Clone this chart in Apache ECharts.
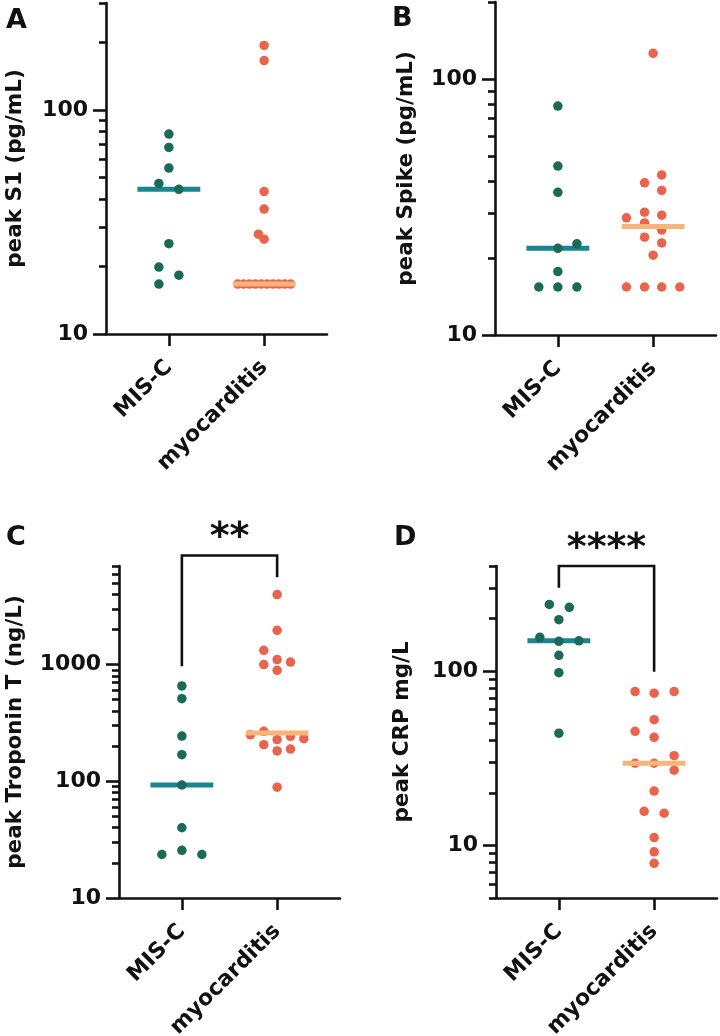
<!DOCTYPE html>
<html><head><meta charset="utf-8">
<script src="https://cdn.jsdelivr.net/npm/echarts@6/dist/echarts.min.js"></script>
<style>html,body{margin:0;padding:0;background:#fff}#c{width:720px;height:1036px}</style>
</head><body><div id="c"></div>
<script>
const categories = ['MIS-C', 'myocarditis'];

// Panel A – peak S1 (pg/mL)
const s1MisC = [78, 68, 55, 47, 44.2, 25.3, 19.9, 18.3, 16.7];
const s1MisCJitter = [0, 0, 0, -0.105, 0.105, 0, -0.105, 0.105, -0.105];
const s1Myo = [194, 166, 43.2, 36.1, 27.9, 26.5, 16.7, 16.7, 16.7, 16.7, 16.7, 16.7, 16.7, 16.7, 16.7, 16.7];
const s1MyoJitter = [0, 0, 0, 0, -0.06, 0, -0.278, -0.216, -0.154, -0.093, -0.031, 0.031, 0.093, 0.154, 0.216, 0.278];

// Panel B – peak Spike (pg/mL)
const spikeMisC = [78.4, 45.7, 36.1, 22.7, 21.8, 17.7, 15.4, 15.4, 15.4];
const spikeMisCJitter = [0, 0, 0, 0.2, 0, 0, -0.2, 0, 0.2];
const spikeMyo = [126, 42.2, 39.3, 36.7, 30.2, 29.4, 28.7, 27.4, 25.7, 24.1, 22.9, 20.5, 15.4, 15.4, 15.4, 15.4];
const spikeMyoJitter = [0, 0.09, -0.09, 0.09, -0.09, 0.09, -0.28, -0.09, 0.09, -0.09, 0.09, 0, -0.28, -0.09, 0.09, 0.28];

// Panel C – peak Troponin T (ng/L)
const tropMisC = [656, 511, 244, 169, 93, 40, 25.6, 23.6, 23.6];
const tropMisCJitter = [0, 0, 0, 0, 0, 0, 0, -0.21, 0.21];
const tropMyo = [3980, 1966, 1326, 1104, 1052, 1000, 894, 268, 250, 243, 232, 228, 206, 189, 182, 89];
const tropMyoJitter = [0, 0, -0.14, 0, 0.14, -0.14, 0, -0.14, -0.28, 0.14, 0.28, 0, -0.14, 0.14, 0, 0];

// Panel D – peak CRP mg/L
const crpMisC = [241, 232, 197, 156, 149, 148, 123, 97.8, 44];
const crpMisCJitter = [-0.1, 0.11, 0, -0.2, 0.21, 0, 0, 0, 0];
const crpMyo = [76.3, 74.7, 76.3, 52.6, 45.1, 41.7, 32.7, 29.6, 29.6, 27, 20.5, 15.7, 15.3, 11.1, 9.2, 7.9];
const crpMyoJitter = [-0.2, 0, 0.21, 0, -0.2, 0, 0.21, -0.2, 0, 0.21, 0, -0.105, 0.105, 0, 0, 0];

// significance brackets (data space) and labels
const bracketC = { from: 970, top: 8600, to: 5600, label: '**' };
const bracketD = { from: 300, top: 400, to: 99, label: '****' };

const FONT = 'DejaVu Sans';
const INK = '#111111';
const TEAL_DOT = '#1b6a58';
const TEAL_LINE = '#1a8590';
const RED_DOT = '#e8644c';
const ORANGE_LINE = '#f6b679';

const panels = [
  { letter: 'A', name: 'peak S1 (pg/mL)', min: 10, max: 300, misC: s1MisC, misCJ: s1MisCJitter, myo: s1Myo, myoJ: s1MyoJitter,
    grid: { left: 106, top: 3, width: 221, height: 331 }, nameGap: 80, title: { left: 6, top: 7 } },
  { letter: 'B', name: 'peak Spike (pg/mL)', min: 10, max: 200, misC: spikeMisC, misCJ: spikeMisCJitter, myo: spikeMyo, myoJ: spikeMyoJitter,
    grid: { left: 495, top: 2, width: 221, height: 333 }, nameGap: 78, title: { left: 392, top: 5 } },
  { letter: 'C', name: 'peak Troponin T (ng/L)', min: 10, max: 7000, misC: tropMisC, misCJ: tropMisCJitter, myo: tropMyo, myoJ: tropMyoJitter,
    grid: { left: 119, top: 566, width: 221, height: 332 }, nameGap: 93, title: { left: 6, top: 524 }, bracket: bracketC },
  { letter: 'D', name: 'peak CRP mg/L', min: 5, max: 400, misC: crpMisC, misCJ: crpMisCJitter, myo: crpMyo, myoJ: crpMyoJitter,
    grid: { left: 496, top: 566, width: 221, height: 332 }, nameGap: 83, title: { left: 394, top: 524 }, bracket: bracketD }
];

function median(arr) {
  const s = arr.slice().sort((a, b) => a - b);
  const n = s.length;
  return n % 2 ? s[(n - 1) / 2] : (s[n / 2 - 1] + s[n / 2]) / 2;
}
function logTicks(min, max) {
  const major = [], minor = [];
  for (let e = Math.floor(Math.log10(min)); e <= Math.ceil(Math.log10(max)); e++) {
    for (let m = 1; m <= 9; m++) {
      const v = Number((m * Math.pow(10, e)).toPrecision(6));
      if (v >= min - 1e-9 && v <= max + 1e-9) (m === 1 ? major : minor).push(v);
    }
  }
  return { major, minor };
}

const HALF = 0.33;
const labelFont = { fontFamily: FONT, fontWeight: 'bold', fontSize: 22, color: INK };
const grids = [], xAxes = [], yAxes = [], series = [], titles = [];

panels.forEach((p, i) => {
  grids.push(Object.assign({ containLabel: false, outerBoundsMode: 'none' }, p.grid));
  titles.push({ text: p.letter, left: p.title.left, top: p.title.top, padding: 0,
    textStyle: { fontFamily: FONT, fontWeight: 'bold', fontSize: 27, color: INK } });
  xAxes.push({
    type: 'value', gridIndex: i, min: 0.34, max: 2.66,
    axisLine: { show: true, lineStyle: { color: INK, width: 2.6 } },
    axisTick: { show: true, customValues: [1, 2], length: 12, lineStyle: { color: INK, width: 2.6 } },
    axisLabel: Object.assign({ customValues: [1, 2], rotate: 45, margin: 30,
      formatter: v => categories[Math.round(v) - 1] }, labelFont),
    splitLine: { show: false }
  });
  const t = logTicks(p.min, p.max);
  yAxes.push({
    type: 'log', logBase: 10, gridIndex: i, min: p.min, max: p.max, position: 'left',
    axisLine: { show: true, lineStyle: { color: INK, width: 2.6 } },
    axisTick: { show: true, customValues: t.major, length: 13, lineStyle: { color: INK, width: 2.6 } },
    axisLabel: Object.assign({ customValues: t.major, margin: 18, formatter: v => String(Math.round(v)) }, labelFont),
    splitLine: { show: false },
    name: p.name, nameLocation: 'middle', nameGap: p.nameGap, nameMoveOverlap: false,
    nameTextStyle: { fontFamily: FONT, fontWeight: 'bold', fontSize: 21.5, color: INK }
  });
  yAxes.push({
    type: 'log', logBase: 10, gridIndex: i, min: p.min, max: p.max, position: 'left', offset: 0,
    axisLine: { show: false },
    axisTick: { show: true, customValues: t.minor, length: 7, lineStyle: { color: INK, width: 2.6 } },
    axisLabel: { show: false },
    splitLine: { show: false }
  });
  const yi = 2 * i;
  const mA = median(p.misC), mB = median(p.myo);
  series.push({ type: 'line', xAxisIndex: i, yAxisIndex: yi, z: 2, silent: true, symbol: 'none',
    data: [[1 - HALF, mA], [1 + HALF, mA]], lineStyle: { color: TEAL_LINE, width: 5 } });
  series.push({ type: 'scatter', xAxisIndex: i, yAxisIndex: yi, z: 3, silent: true, symbol: 'circle', symbolSize: 9.5,
    data: p.misC.map((v, k) => [1 + p.misCJ[k], v]), itemStyle: { color: TEAL_DOT, opacity: 1 } });
  series.push({ type: 'scatter', xAxisIndex: i, yAxisIndex: yi, z: 3, silent: true, symbol: 'circle', symbolSize: 9.5,
    data: p.myo.map((v, k) => [2 + p.myoJ[k], v]), itemStyle: { color: RED_DOT, opacity: 1 } });
  series.push({ type: 'line', xAxisIndex: i, yAxisIndex: yi, z: 4, silent: true, symbol: 'none',
    data: [[2 - HALF, mB], [2 + HALF, mB]], lineStyle: { color: ORANGE_LINE, width: 5 } });
  if (p.bracket) {
    const b = p.bracket;
    series.push({ type: 'custom', xAxisIndex: i, yAxisIndex: yi, z: 5, silent: true, clip: false,
      data: [[1, b.top]],
      renderItem: (params, api) => {
        const a0 = api.coord([1, b.from]), a1 = api.coord([1, b.top]);
        const b1 = api.coord([2, b.top]), b0 = api.coord([2, b.to]);
        return { type: 'group', children: [
          { type: 'polyline', shape: { points: [a0, a1, b1, b0] },
            style: { stroke: INK, lineWidth: 2.6, fill: null } },
          { type: 'text', style: { text: b.label, x: (a1[0] + b1[0]) / 2, y: a1[1] - 17,
            align: 'center', verticalAlign: 'middle', font: 'bold 38px "DejaVu Sans"', fill: INK } }
        ] };
      } });
  }
});

const chart = echarts.init(document.getElementById('c'), null, { renderer: 'canvas' });
chart.setOption({
  animation: false,
  backgroundColor: '#ffffff',
  title: titles,
  grid: grids,
  xAxis: xAxes,
  yAxis: yAxes,
  series: series
});
</script>
</body></html>
